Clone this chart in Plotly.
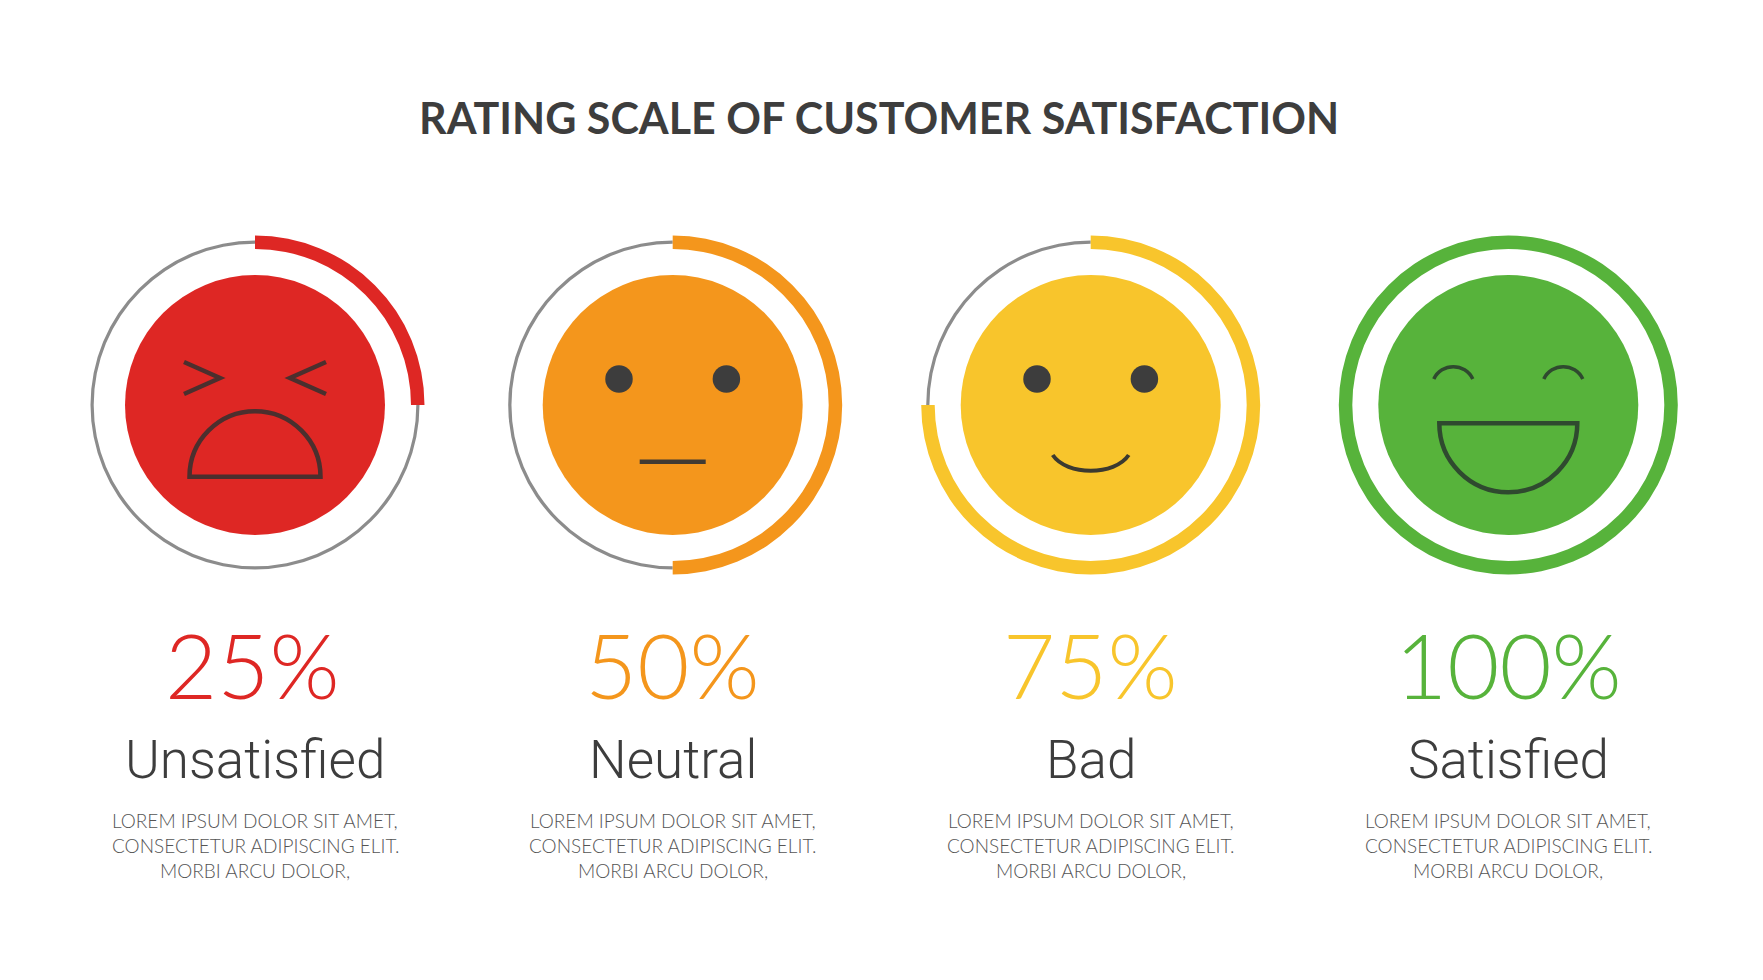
import plotly.graph_objects as go

W, H = 1763, 980
PAGE_MARGIN = 8  # the browser's default body margin around the plot
TITLE = "RATING SCALE OF CUSTOMER SATISFACTION"
CATEGORIES = ["Unsatisfied", "Neutral", "Bad", "Satisfied"]
PERCENTS = [25, 50, 75, 100]
COLORS = ["#DE2724", "#F4961C", "#F8C52C", "#57B33B"]
INK = ["#4B2F2E", "#403A33", "#3C3A30", "#2F4A2F"]
CENTERS_X = [255, 672.7, 1090.7, 1508.3]
PERCENT_NUDGE = [-3, 0, 0, 0]
CENTER_Y = 405
LOREM = ["LOREM IPSUM DOLOR SIT AMET,", "CONSECTETUR ADIPISCING ELIT.", "MORBI ARCU DOLOR,"]
GREY = "#8C8C8C"
DARK = "#3D3D3D"
K = 0.5523

PW, PH = W - 2 * PAGE_MARGIN, H - 2 * PAGE_MARGIN


def domain(cx, r):
    x0 = cx - PAGE_MARGIN
    y0 = CENTER_Y - PAGE_MARGIN
    return dict(x=[(x0 - r) / PW, (x0 + r) / PW],
                y=[1 - (y0 + r) / PH, 1 - (y0 - r) / PH])


fig = go.Figure()

# rings
for cx, pct, col in zip(CENTERS_X, PERCENTS, COLORS):
    for r, hole, colors in [(164.5, 161.3 / 164.5, ["rgba(0,0,0,0)", GREY]),
                            (169.5, 156 / 169.5, [col, "rgba(0,0,0,0)"])]:
        fig.add_trace(go.Pie(values=[pct, 100 - pct], sort=False, direction="clockwise",
                             rotation=0, hole=hole, domain=domain(cx, r),
                             marker=dict(colors=colors, line=dict(width=0)),
                             textinfo="none", hoverinfo="skip", showlegend=False))

# face discs
fig.add_trace(go.Scatter(x=CENTERS_X, y=[CENTER_Y] * 4, mode="markers", hoverinfo="skip",
                         marker=dict(size=260, color=COLORS, line=dict(width=0)), showlegend=False))

# round eyes on Neutral and Bad
eye_x = [CENTERS_X[1] - 53.7, CENTERS_X[1] + 53.7, CENTERS_X[2] - 53.7, CENTERS_X[2] + 53.7]
fig.add_trace(go.Scatter(x=eye_x, y=[379] * 4, mode="markers", hoverinfo="skip",
                         marker=dict(size=27.5, color=DARK, line=dict(width=0)), showlegend=False))

shapes = []


def stroke(path, color, width):
    shapes.append(dict(type="path", path=path, xref="x", yref="y", layer="above",
                       line=dict(color=color, width=width), fillcolor="rgba(0,0,0,0)"))


# Unsatisfied
c = CENTERS_X[0]
stroke(f"M{c-71},{CENTER_Y-43} L{c-35},{CENTER_Y-27} L{c-71},{CENTER_Y-11}", INK[0], 4.5)
stroke(f"M{c+71},{CENTER_Y-43} L{c+35},{CENTER_Y-27} L{c+71},{CENTER_Y-11}", INK[0], 4.5)
r, b = 65.5, CENTER_Y + 71.7
stroke(f"M{c-r},{b} C{c-r},{b-r*K} {c-r*K},{b-r} {c},{b-r} "
       f"C{c+r*K},{b-r} {c+r},{b-r*K} {c+r},{b} Z", INK[0], 4.5)

# Neutral
c = CENTERS_X[1]
stroke(f"M{c-33},{CENTER_Y+56.7} L{c+33},{CENTER_Y+56.7}", INK[1], 4.5)

# Bad
c = CENTERS_X[2]
stroke(f"M{c-38},{CENTER_Y+50} C{c-24},{CENTER_Y+71} {c+24},{CENTER_Y+71} {c+38},{CENTER_Y+50}", INK[2], 4)

# Satisfied
c = CENTERS_X[3]
for dx in (-55, 55):
    stroke(f"M{c+dx-19.5},{CENTER_Y-26} C{c+dx-12},{CENTER_Y-42.5} {c+dx+12},{CENTER_Y-42.5} "
           f"{c+dx+19.5},{CENTER_Y-26}", INK[3], 3.5)
r, t = 69, CENTER_Y + 18.3
stroke(f"M{c-r},{t} L{c+r},{t} C{c+r},{t+r*K} {c+r*K},{t+r} {c},{t+r} "
       f"C{c-r*K},{t+r} {c-r},{t+r*K} {c-r},{t} Z", INK[3], 4.5)

annotations = [dict(text=TITLE, x=879, y=117, xref="x", yref="y", showarrow=False,
                    font=dict(family="Lato", size=43, color="#3D3D3D", weight=700))]
for cx, cat, pct, col, nudge in zip(CENTERS_X, CATEGORIES, PERCENTS, COLORS, PERCENT_NUDGE):
    annotations.append(dict(text=f"{pct}%", x=cx + nudge, y=664, xref="x", yref="y", showarrow=False,
                            font=dict(family="Lato", size=90, color=col, weight=300)))
    annotations.append(dict(text=cat, x=cx, y=760, xref="x", yref="y", showarrow=False,
                            font=dict(family="Roboto", size=53, color="#3D3D3D", weight=300)))
    for y, line in zip([820, 845, 870], LOREM):
        annotations.append(dict(text=line, x=cx, y=y, xref="x", yref="y", showarrow=False,
                                font=dict(family="Lato", size=19, color="#555555", weight=300)))

fig.update_layout(
    width=PW, height=PH, margin=dict(l=0, r=0, t=0, b=0),
    paper_bgcolor="white", plot_bgcolor="white", showlegend=False,
    xaxis=dict(range=[PAGE_MARGIN, W - PAGE_MARGIN], visible=False, fixedrange=True),
    yaxis=dict(range=[H - PAGE_MARGIN, PAGE_MARGIN], visible=False, fixedrange=True),
    shapes=shapes, annotations=annotations,
)
fig.write_html("out.html", config=dict(displayModeBar=False))
